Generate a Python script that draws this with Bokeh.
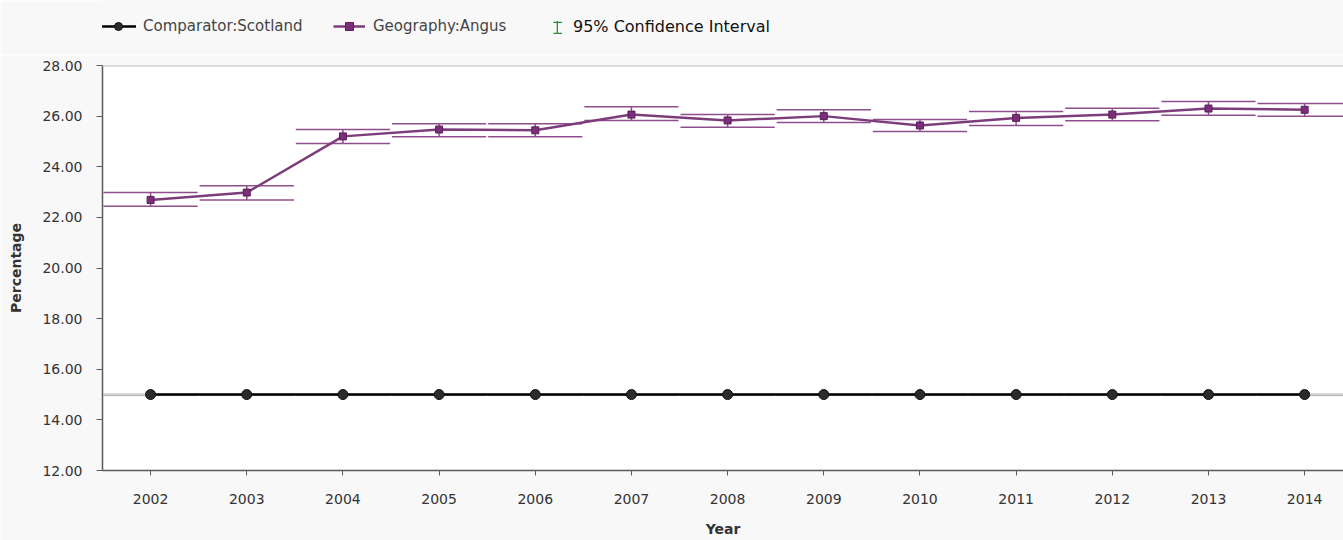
import math
from bokeh.plotting import figure
from bokeh.layouts import column
from bokeh.models import (FixedTicker, NumeralTickFormatter, Range1d, Legend, LegendItem,
                          ColumnDataSource, Span)
from bokeh.embed import file_html
from bokeh.resources import INLINE

years = [2002, 2003, 2004, 2005, 2006, 2007, 2008, 2009, 2010, 2011, 2012, 2013, 2014]
angus = [22.69, 22.98, 25.20, 25.47, 25.44, 26.06, 25.83, 26.00, 25.63, 25.93, 26.06, 26.30, 26.25]
angus_upper = [22.98, 23.25, 25.47, 25.70, 25.70, 26.37, 26.06, 26.25, 25.87, 26.18, 26.31, 26.58, 26.50]
angus_lower = [22.44, 22.69, 24.92, 25.19, 25.19, 25.83, 25.56, 25.75, 25.39, 25.63, 25.82, 26.03, 26.00]
scotland = [15.0] * 13
scotland_upper = [15.02] * 13
scotland_lower = [14.96] * 13
y_ticks = [12, 14, 16, 18, 20, 22, 24, 26, 28]
legend_labels = ["Comparator:Scotland", "Geography:Angus", "95% Confidence Interval"]

CAP = 0.49
FONT = "DejaVu Sans"
BG = "#f8f8f8"
S_LINE = "#000000"
S_FILL, S_EDGE = "#2b2b2b", "#111111"
A_LINE = "#7d3d7b"
A_FILL, A_EDGE = "#7b2f7b", "#5a1f5a"
CI_COL = "#8e4f8c"
CI_LEG = "#2e8b2e"

src_a = ColumnDataSource(dict(x=years, y=angus, up=angus_upper, lo=angus_lower,
                              x0=[v - CAP for v in years], x1=[v + CAP for v in years]))
src_s = ColumnDataSource(dict(x=years, y=scotland, up=scotland_upper, lo=scotland_lower,
                              x0=[v - CAP for v in years], x1=[v + CAP for v in years]))

# ---------------- legend strip ----------------
LG_H = 55
lg = figure(width=1343, height=LG_H, output_backend="svg", toolbar_location=None,
            x_axis_type=None, y_axis_type=None,
            x_range=Range1d(0, 1), y_range=Range1d(0, 1),
            min_border=0, min_border_left=0, min_border_right=0,
            min_border_top=0, min_border_bottom=0)
lg.background_fill_color = BG
lg.border_fill_color = BG
lg.outline_line_color = None
lg.xgrid.visible = False
lg.ygrid.visible = False

d = dict(x=[-10], y=[-10])
l1 = lg.line(x=d["x"], y=d["y"], line_color=S_LINE, line_width=2.5)
m1 = lg.scatter(x=d["x"], y=d["y"], marker="circle", size=10, fill_color=S_FILL,
                line_color=S_EDGE)
l2 = lg.line(x=d["x"], y=d["y"], line_color=A_LINE, line_width=2.5)
m2 = lg.scatter(x=d["x"], y=d["y"], marker="square", size=8, fill_color=A_FILL,
                line_color=A_EDGE)
bar = lg.quad(left=[-10], right=[-9], bottom=[-10], top=[-9], fill_color=CI_LEG,
              line_color=None)
cap = lg.line(x=d["x"], y=d["y"], line_color=CI_LEG, line_width=1.5)


def mk_legend(label, rends, x, y, gw, gh, font_size, color, standoff):
    return Legend(items=[LegendItem(label=label, renderers=rends)],
                  location=(x, y), orientation="horizontal", padding=0, margin=0,
                  glyph_width=gw, glyph_height=gh, label_standoff=standoff,
                  label_text_font=FONT, label_text_font_size=font_size,
                  label_text_color=color, border_line_color=None,
                  background_fill_alpha=0)


lg.add_layout(mk_legend(legend_labels[0], [l1, m1], -2, 19, 36, 20, "15px", "#444444", 7), "center")
lg.add_layout(mk_legend(legend_labels[1], [l2, m2], 231, 19, 32, 20, "15px", "#444444", 8), "center")
lg.add_layout(mk_legend(legend_labels[2], [bar], 454, 19, 2, 16, "16px", "#111111", 15), "center")
lg.add_layout(mk_legend(" ", [cap], 451, 32, 9, 2, "1px", "#111111", 0), "center")
lg.add_layout(mk_legend(" ", [cap], 451, 21, 9, 2, "1px", "#111111", 0), "center")

# ---------------- main chart ----------------
p = figure(width=1343, height=540 - LG_H, output_backend="svg", toolbar_location=None,
           x_range=Range1d(2001.5, 2014.404), y_range=Range1d(12, 28),
           min_border_left=102, min_border_top=65 - LG_H, min_border_bottom=70,
           min_border_right=0)

p.background_fill_color = "white"
p.border_fill_color = BG
p.outline_line_color = None
p.xgrid.visible = False
p.ygrid.visible = False

p.add_layout(Span(location=28, dimension="width", line_color="#bdbdbd", line_width=2))

# Scotland CI (tiny, grey caps)
p.segment(x0="x0", x1="x1", y0="up", y1="up", source=src_s, line_color="#b0b0b0", line_width=1)
p.segment(x0="x0", x1="x1", y0="lo", y1="lo", source=src_s, line_color="#b0b0b0", line_width=1)

# Angus CI
p.segment(x0="x0", x1="x1", y0="up", y1="up", source=src_a, line_color=CI_COL, line_width=1.5)
p.segment(x0="x0", x1="x1", y0="lo", y1="lo", source=src_a, line_color=CI_COL, line_width=1.5)
p.segment(x0="x", x1="x", y0="lo", y1="up", source=src_a, line_color=CI_COL, line_width=1.5)

p.line("x", "y", source=src_s, line_color=S_LINE, line_width=2.5)
p.scatter("x", "y", source=src_s, marker="circle", size=10,
          fill_color=S_FILL, line_color=S_EDGE, line_width=1)

p.line("x", "y", source=src_a, line_color=A_LINE, line_width=2.5)
p.scatter("x", "y", source=src_a, marker="square", size=7,
          fill_color=A_FILL, line_color=A_EDGE, line_width=1)

p.yaxis.ticker = FixedTicker(ticks=y_ticks)
p.yaxis.formatter = NumeralTickFormatter(format="0.00")
p.yaxis.axis_label = "Percentage"
p.xaxis.ticker = FixedTicker(ticks=years)
p.xaxis.axis_label = "Year"

for ax in (p.xaxis[0], p.yaxis[0]):
    ax.axis_line_color = "#5a5a5a"
    ax.axis_line_width = 1.5
    ax.major_tick_line_color = "#5a5a5a"
    ax.major_tick_in = 0
    ax.minor_tick_line_color = None
    ax.major_label_text_font = FONT
    ax.major_label_text_font_size = "14px"
    ax.major_label_text_color = "#333333"
    ax.axis_label_text_font = FONT
    ax.axis_label_text_font_size = "14px"
    ax.axis_label_text_font_style = "bold"
    ax.axis_label_text_color = "#333333"

p.yaxis.major_tick_out = 6
p.yaxis.major_label_standoff = 14
p.yaxis.axis_label_standoff = 15
p.xaxis.major_tick_out = 5
p.xaxis.major_label_standoff = 18
p.xaxis.axis_label_standoff = 14

layout = column(lg, p, spacing=0)
open("out.html", "w").write(file_html(layout, INLINE))
